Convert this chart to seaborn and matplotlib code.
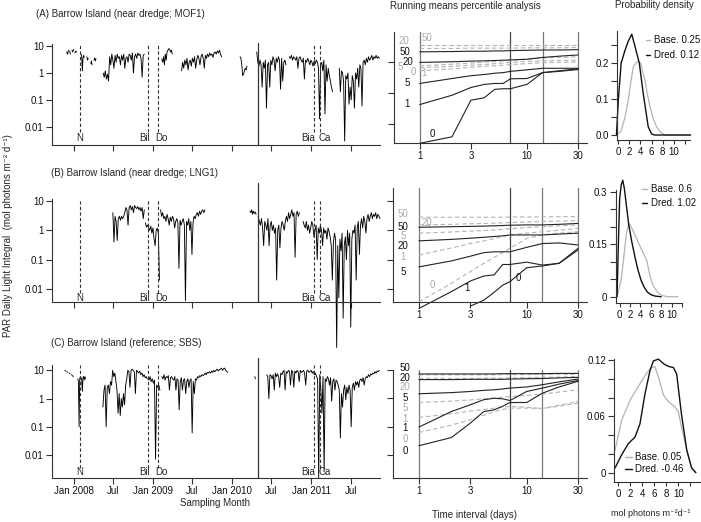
import numpy as np
import pandas as pd
import matplotlib
matplotlib.use("Agg")
import matplotlib.pyplot as plt
from matplotlib.lines import Line2D
from matplotlib.ticker import NullLocator
import matplotlib.transforms as mtransforms
import seaborn as sns

sns.set_theme(style="white")
plt.rcParams['font.family'] = ['Liberation Sans', 'DejaVu Sans']
plt.rcParams['axes.unicode_minus'] = False

# ---------------------------------------------------------------- DATA
# time axis: day 0 = 1 Jan 2008
month_ticks = [0, 182, 366, 547, 731, 912, 1096, 1277]
month_labels = ["Jan 2008", "Jul", "Jan 2009", "Jul", "Jan 2010", "Jul", "Jan 2011", "Jul"]
event_days = [29, 343, 386, 1110, 1138]
event_names = ["N", "Bil", "Do", "Bia", "Ca"]
dredge_start_day = 850

# daily light integral segments: (first day, step in days, values)
mof1_segments = [
    (-33, 4, [6.0, 5.0, 7.0]),
    (-20, 4, [6.5, 5.0]),
    (-9, 4, [7.0, 6.0, 7.5]),
    (5, 4, [5.5, 6.5, 6.0]),
    (33, 3, [5.0, 4.0, 1.2, 3.5, 4.5, 3.8]),
    (60, 3, [4.0, 3.0, 3.5]),
    (78, 3, [2.2, 2.8, 2.0]),
    (93, 3, [3.0, 3.6, 2.8, 3.4]),
    (135, 5, [1.0, 0.7, 1.2, 0.6, 0.9, 0.5, 4.0, 2.0, 5.0, 3.0, 1.5, 4.5, 2.5, 5.0, 3.5, 4.0, 2.0, 4.5, 3.0, 5.0,
              1.5, 3.5, 4.0, 2.5, 5.0, 4.5, 3.0, 5.5, 1.0, 4.0, 5.0, 3.5, 5.5, 4.5, 5.0, 3.5, 0.7, 4.5, 5.0]),
    (406, 4, [3.3, 2.5, 4.0, 2.0, 5.0, 3.0, 6.0, 7.0, 8.0, 7.5, 6.0, 7.0, 5.0]),
    (497, 5, [1.2, 2.5, 1.5, 3.0, 2.0, 3.5, 1.3, 2.5, 3.0, 1.8, 3.5, 2.5, 4.0, 1.5, 3.0, 4.5, 3.5, 2.0, 4.0, 5.0,
              3.5, 1.5, 4.5, 3.5, 5.0, 4.0, 5.5, 4.5, 5.0, 3.8, 5.5, 6.0, 5.0, 6.5, 5.5, 7.0, 5.0, 4.0]),
    (767, 4, [4.0, 3.5, 2.0, 0.8, 0.9, 1.2, 1.5, 1.3, 1.8]),
    (844, 5, [6.0, 2.5, 1.8, 3.0, 2.0, 0.3, 2.5, 1.5, 3.0, 0.05, 2.0, 2.5, 0.3, 3.0, 2.0, 4.0, 3.0, 1.2, 3.5, 2.5,
              4.0, 3.0, 0.25, 3.5, 0.5, 2.5, 3.0, 2.0]),
    (994, 5, [4.0, 3.5, 4.5, 3.0, 4.0, 3.5, 3.0, 4.0, 1.5, 3.5, 4.0, 3.0, 2.5, 3.5, 0.6, 3.0, 2.5, 3.5, 2.8, 2.0,
              3.0, 2.5, 1.8, 2.8, 2.2, 3.0, 2.5, 1.5, 0.02, 2.0, 2.5, 1.2, 3.0, 0.03, 2.0, 0.5, 1.5, 0.8, 0.5, 0.3,
              0.2]),
    (1225, 5, [1.5, 0.2, 1.2, 1.0, 0.5, 0.003, 0.8, 0.6, 1.0, 0.07, 0.3, 0.1, 0.8, 0.5, 0.05, 1.0, 0.6, 1.5, 0.3,
               2.0, 1.5, 0.06, 2.5, 3.0, 2.0, 3.5, 2.5, 4.0, 3.0, 3.5, 4.5, 3.0, 4.0, 3.5, 4.5, 3.5, 4.0, 3.5]),
]
lng1_segments = [
    (180, 5, [4.0, 0.4, 3.0, 2.0, 0.45, 2.5, 3.0, 2.2, 3.0, 2.5, 3.0, 4.0, 6.0, 5.0, 1.5, 6.0, 7.0, 5.0, 6.5, 4.0,
              7.0, 6.0, 5.5, 6.5, 5.0, 6.0, 4.5, 6.0, 2.5, 5.0]),
    (330, 5, [1.8, 1.3, 1.5, 1.2, 1.0, 1.4, 0.8, 1.2, 0.5, 0.3, 1.0, 1.2, 0.8, 0.02]),
    (400, 5, [5.0, 3.0, 4.0, 2.5, 3.0, 2.0, 3.5, 2.5, 1.5, 2.8, 2.0, 3.0, 2.5, 1.2, 2.0, 2.5, 1.8, 0.05, 2.2, 1.5,
              2.0, 2.5, 1.5, 0.004, 2.0, 1.5, 2.5, 1.0, 2.0, 0.15, 1.8, 3.0, 2.5, 3.5, 4.0, 3.0, 4.5, 3.5, 4.5, 5.0,
              4.0, 5.0]),
    (813, 4, [4.5, 4.0, 5.0, 3.5, 4.5, 3.8, 4.2, 3.5]),
    (851, 5, [3.0, 2.0, 1.5, 2.5, 1.2, 0.3, 2.0, 1.5, 1.0, 2.5, 0.3, 1.5, 2.0, 1.0, 1.5, 0.8, 1.2, 0.02, 1.0, 1.5,
              0.25, 1.2, 2.0, 1.5, 1.0, 2.0, 3.0, 2.0, 4.0, 2.5, 3.5, 5.0, 3.0, 4.0, 0.12, 3.5, 4.5, 3.0, 4.0]),
    (1058, 5, [2.0, 1.5, 1.2, 2.0, 1.0, 1.5, 0.8, 1.2, 2.0, 1.5, 0.6, 1.0, 1.5, 0.1, 1.2, 0.8, 1.5, 1.0, 0.3, 1.2,
               0.8, 1.0, 0.5, 1.2, 0.9,
               0.6, 0.3, 0.02, 0.4, 0.8, 0.5, 0.0001, 0.3, 0.005, 0.5, 0.2, 0.8, 0.001, 0.3, 0.6, 0.1, 1.0, 0.3,
               0.8, 0.0005, 0.5, 1.0,
               0.8, 1.5, 0.02, 1.2, 2.0, 0.15, 1.5, 2.5, 1.2, 3.0, 2.0, 0.8, 2.5, 3.5, 2.0, 3.0, 4.0, 2.5, 3.5,
               3.0, 4.0, 2.5, 3.5, 3.0, 2.5]),
]
sbs_segments = [
    (-42, 4, [10.0, 9.5]),
    (-33, 4, [9.0, 8.5]),
    (-22, 4, [8.0, 7.5]),
    (-11, 4, [7.0, 6.5, 6.0]),
    (18, 3, [5.0, 4.0, 0.1, 5.0, 6.0, 5.5, 4.5, 1.8, 5.5, 6.0, 4.5, 6.0, 5.0]),
    (134, 5, [0.5, 2.0, 3.0, 0.1, 2.5, 3.0, 1.5, 4.0, 3.0, 10.0, 6.0, 8.0, 4.0, 2.0, 0.3, 1.5, 0.25, 1.0, 0.5, 1.5,
              0.6, 3.0, 5.0, 10.0, 9.0, 2.5, 10.0, 11.0, 10.0, 9.0, 1.5, 10.0, 9.0, 8.0, 9.5, 7.0, 8.0, 6.0, 7.0,
              5.5, 6.0, 5.0]),
    (342, 5, [5.0, 4.5, 6.0, 4.0, 5.0, 3.5, 4.5, 0.007, 3.0, 2.5, 3.0, 2.0]),
    (406, 5, [6.0, 5.0, 7.0, 4.5, 6.0, 5.5, 6.5, 2.0, 5.5, 6.0, 5.0, 4.5, 6.0, 2.0, 5.0, 4.5, 0.4, 4.0, 5.5, 2.0,
              4.5, 5.0, 1.5, 4.0, 5.0, 2.5, 4.5, 5.0, 0.06, 4.0, 1.5, 5.0, 4.5, 6.0, 5.5, 6.5, 6.0, 7.0, 6.5, 7.0,
              8.0, 7.0, 8.5, 8.0, 9.0, 8.0, 9.5, 8.5, 10.0, 9.0, 10.0, 11.0, 9.5, 10.5, 11.0, 12.0, 10.0, 11.5,
              12.0, 10.0, 9.0, 8.5]),
    (835, 3, [6.0, 5.0]),
    (890, 5, [7.0, 6.0, 1.0, 7.0, 6.5, 5.0, 7.0, 2.0, 8.0, 6.0, 7.5, 6.0, 2.5, 8.0, 7.0, 9.0,
              10.0, 2.0, 9.0, 8.0, 10.0, 9.0, 3.0, 10.0, 9.0, 2.5, 9.5, 8.0, 10.0, 9.0, 4.0, 10.0, 8.5, 9.0, 10.0,
              8.0, 3.0, 9.5, 10.0, 8.5, 9.0, 10.0, 8.0, 9.0,
              7.0, 8.0, 6.0, 5.0, 0.0015, 7.0, 2.0, 0.3, 6.0, 0.0025, 5.0, 4.0, 6.0, 5.0, 3.0, 5.5, 0.8, 4.0, 5.0,
              2.0, 4.5, 4.0,
              3.0, 2.0, 0.04, 1.5, 0.5, 2.0, 3.0, 0.9, 2.5, 1.5, 3.0, 2.0, 0.1, 2.5, 3.5, 2.0, 4.0, 3.0,
              4.0, 2.5, 4.5, 5.0, 4.0, 5.5, 3.0, 5.0, 6.0, 5.5, 7.0, 6.0, 7.5, 7.0, 8.0, 7.5, 9.0, 8.0, 9.5, 9.0,
              10.0]),
]

# running-mean percentiles (log10 of mol photons), rows = percentiles 0,1,5,20,50
interval_days = [1, 2, 3, 4, 5, 6, 7, 10, 14, 20, 30]
pct_levels = ["0", "1", "5", "20", "50"]
nan = np.nan
mof1_dred_log = [
    [-1.62, -1.41, -0.23, -0.15, 0.12, 0.14, 0.14, 0.28, 0.66, 0.70, 0.76],
    [-0.37, -0.07, 0.18, 0.28, 0.31, 0.31, 0.46, 0.47, 0.66, 0.72, 0.78],
    [0.31, 0.47, 0.56, 0.60, 0.64, 0.66, 0.70, 0.75, 0.80, 0.80, 0.80],
    [0.99, 1.01, 1.03, 1.04, 1.05, 1.06, 1.07, 1.09, 1.15, 1.19, 1.23],
    [1.33, 1.34, 1.35, 1.35, 1.36, 1.36, 1.37, 1.38, 1.39, 1.39, 1.40],
]
mof1_base_log = [
    [0.72, 0.78, 0.83, 0.86, 0.88, 0.90, 0.92, 0.95, 0.98, 0.99, 1.00],
    [0.82, 0.86, 0.90, 0.92, 0.95, 0.97, 0.99, 1.02, 1.04, 1.05, 1.06],
    [0.88, 0.93, 0.97, 1.00, 1.02, 1.04, 1.06, 1.10, 1.13, 1.15, 1.17],
    [1.44, 1.44, 1.45, 1.45, 1.45, 1.45, 1.45, 1.46, 1.46, 1.46, 1.47],
    [1.55, 1.55, 1.55, 1.55, 1.55, 1.55, 1.55, 1.55, 1.55, 1.55, 1.55],
]
lng1_dred_log = [
    [nan, nan, -2.57, -2.37, -2.10, -1.86, -1.74, -1.27, -1.21, -1.12, -0.67],
    [-2.65, -2.08, -1.72, -1.55, -1.51, -1.16, -1.16, -1.08, -1.18, -1.12, -0.61],
    [-1.24, -1.04, -0.88, -0.76, -0.73, -0.73, -0.73, -0.58, -0.45, -0.43, -0.50],
    [-0.36, -0.31, -0.27, -0.24, -0.21, -0.19, -0.16, -0.16, -0.16, -0.13, -0.10],
    [0.10, 0.12, 0.13, 0.14, 0.15, 0.16, 0.17, 0.18, 0.18, 0.20, 0.23],
]
lng1_base_log = [
    [-2.42, -1.80, -1.40, -1.12, -0.92, -0.75, -0.61, -0.28, -0.16, -0.10, -0.05],
    [-0.84, -0.60, -0.45, -0.36, -0.28, -0.21, -0.16, -0.10, -0.05, 0.00, 0.06],
    [-0.10, -0.06, -0.03, -0.01, 0.01, 0.03, 0.05, 0.09, 0.12, 0.15, 0.18],
    [0.18, 0.20, 0.22, 0.23, 0.24, 0.25, 0.26, 0.28, 0.30, 0.31, 0.32],
    [0.44, 0.44, 0.44, 0.44, 0.44, 0.44, 0.45, 0.45, 0.45, 0.46, 0.46],
]
sbs_dred_log = [
    [-1.68, -1.39, -0.88, -0.47, -0.41, -0.28, -0.15, -0.15, 0.18, 0.40, 0.60],
    [-1.02, -0.47, -0.23, -0.05, 0.00, -0.02, -0.08, 0.24, 0.36, 0.50, 0.63],
    [0.16, 0.20, 0.24, 0.28, 0.30, 0.33, 0.36, 0.40, 0.48, 0.58, 0.68],
    [0.66, 0.66, 0.67, 0.67, 0.67, 0.67, 0.68, 0.69, 0.70, 0.72, 0.74],
    [0.86, 0.86, 0.86, 0.86, 0.86, 0.87, 0.87, 0.87, 0.87, 0.88, 0.88],
]
sbs_base_log = [
    [-1.21, -0.95, -0.76, -0.60, -0.47, -0.40, -0.35, -0.35, -0.36, -0.28, -0.17],
    [-0.68, -0.55, -0.45, -0.40, -0.35, -0.32, -0.29, -0.32, -0.36, -0.25, -0.11],
    [-0.15, -0.10, -0.06, -0.02, 0.01, 0.04, 0.06, 0.10, 0.15, 0.22, 0.30],
    [0.70, 0.70, 0.70, 0.71, 0.71, 0.71, 0.72, 0.73, 0.74, 0.75, 0.77],
    [0.83, 0.83, 0.83, 0.83, 0.83, 0.84, 0.84, 0.84, 0.85, 0.85, 0.85],
]

# probability densities (x in mol photons m-2 d-1)
mof1_base_x = [-0.3, 0.5, 1.25, 1.85, 2.3, 2.75, 3.2, 3.6, 4.05, 4.5, 4.85, 5.3, 5.7, 6.3, 6.9, 7.6, 8.4, 13.0]
mof1_base_y = [0, 0.01, 0.05, 0.10, 0.15, 0.19, 0.20, 0.205, 0.20, 0.17, 0.15, 0.11, 0.08, 0.045, 0.023, 0.008, 0, 0]
mof1_dred_x = [-0.3, 0.05, 0.55, 1.25, 1.8, 2.45, 3.05, 3.8, 4.5, 5.4, 6.0, 6.5, 13.0]
mof1_dred_y = [0, 0.10, 0.20, 0.236, 0.26, 0.28, 0.245, 0.20, 0.116, 0.023, 0.003, 0, 0]
lng1_base_x = [-0.5, 0.3, 0.88, 1.3, 1.76, 2.2, 2.65, 3.1, 3.53, 4.0, 4.4, 4.8, 5.2, 5.55, 5.88, 6.3, 6.76, 7.3,
               7.94, 8.6, 9.4, 11.2]
lng1_base_y = [0, 0.048, 0.124, 0.18, 0.21, 0.20, 0.186, 0.172, 0.157, 0.142, 0.129, 0.117, 0.105, 0.08, 0.057,
               0.038, 0.024, 0.013, 0.005, 0.002, 0, 0]
lng1_dred_x = [-0.5, -0.3, 0, 0.3, 0.6, 0.9, 1.3, 1.76, 2.3, 2.94, 3.5, 4.1, 4.7, 5.3, 6.0, 6.8, 8.0]
lng1_dred_y = [0, 0.12, 0.28, 0.32, 0.333, 0.31, 0.26, 0.205, 0.16, 0.114, 0.078, 0.048, 0.028, 0.014, 0.006,
               0.002, 0]
sbs_base_x = [-0.55, 0.55, 1.94, 3.33, 4.72, 5.55, 6.1, 6.67, 7.5, 8.3, 9.44, 10.0, 10.5, 11.4, 12.2, 12.9]
sbs_base_y = [0.024, 0.056, 0.077, 0.092, 0.106, 0.112, 0.113, 0.102, 0.083, 0.076, 0.070, 0.065, 0.049, 0.024,
              0.006, 0]
sbs_dred_x = [-0.55, 0.55, 1.67, 2.78, 3.6, 4.44, 5.28, 5.83, 6.67, 7.2, 7.78, 8.5, 9.17, 9.72, 10.5, 11.4, 12.2,
              12.9]
sbs_dred_y = [0.005, 0.019, 0.031, 0.038, 0.052, 0.084, 0.109, 0.119, 0.121, 0.118, 0.115, 0.113, 0.112, 0.105,
              0.063, 0.024, 0.005, 0]
mof1_legend = ["Base. 0.25", "Dred. 0.12"]
lng1_legend = ["Base. 0.6", "Dred. 1.02"]
sbs_legend = ["Base. 0.05", "Dred. -0.46"]

# ---------------------------------------------------------------- FIGURE
W, H = 701, 522
fig = plt.figure(figsize=(W / 100, H / 100), dpi=100)
AX = '#333333'
GREY = '#b3b3b3'
FS = 7


def px_axes(x0, y0, x1, y1):
    return fig.add_axes([x0 / W, 1 - y1 / H, (x1 - x0) / W, (y1 - y0) / H])


def style(ax):
    for s in ['top', 'right']:
        ax.spines[s].set_visible(False)
    for s in ['left', 'bottom']:
        ax.spines[s].set_color(AX)
        ax.spines[s].set_linewidth(0.8)
    ax.tick_params(which='major', direction='out', length=4, width=0.8, color=AX,
                   labelsize=FS, pad=2, bottom=True, left=True, labelcolor='#111111')
    ax.set_facecolor('none')
    ax.grid(False)


def ftext(x, y, s, **kw):
    kw.setdefault('fontsize', FS)
    kw.setdefault('va', 'center')
    fig.text(x / W, 1 - y / H, s, **kw)


def draw_series(ax, segments, ylog, lab_frac, line_frac, dredge_top, show_labels, clip):
    ax.set_yscale('log')
    for start, step, vals in segments:
        df = pd.DataFrame({'day': start + step * np.arange(len(vals)), 'dli': vals})
        sns.lineplot(data=df, x='day', y='dli', ax=ax, color='black', lw=0.65,
                     estimator=None, sort=False, clip_on=clip)
    ax.axvline(dredge_start_day, ymin=0, ymax=dredge_top, color=AX, lw=0.9, clip_on=False)
    trans = mtransforms.blended_transform_factory(ax.transData, ax.transAxes)
    offs = [0, -15, 17, -29, 20]
    for d, name, o in zip(event_days, event_names, offs):
        ax.axvline(d, ymin=line_frac, ymax=1, color=AX, lw=0.8, ls=(0, (3, 2)))
        ax.text(d + o, lab_frac, name, transform=trans, ha='center', va='center', fontsize=FS)
    ax.set_xlim(-101, 1413)
    ax.set_ylim(10 ** ylog[0], 10 ** ylog[1])
    ax.set_yticks([0.01, 0.1, 1, 10])
    ax.set_yticklabels(['0.01', '0.1', '1', '10'])
    ax.yaxis.set_minor_locator(NullLocator())
    ax.set_xticks(month_ticks)
    ax.set_xticklabels(month_labels if show_labels else [])
    ax.set_xlabel('')
    ax.set_ylabel('')
    style(ax)


def draw_mid(ax, dred, base, ylog, yticks, dred_lab_px, base_lab_px):
    ax.set_xscale('log')
    ax.set_yscale('log')
    for d, c in zip([1, 7, 14, 30], ['#777777', '#444444', '#777777', '#777777']):
        ax.axvline(d, color=c, lw=0.9)
    for row in base:
        df = pd.DataFrame({'interval': interval_days, 'value': 10 ** np.array(row)}).dropna()
        sns.lineplot(data=df, x='interval', y='value', ax=ax, color=GREY, lw=0.8,
                     linestyle=(0, (4, 2.5)), estimator=None, sort=False, clip_on=False)
    for row in dred:
        df = pd.DataFrame({'interval': interval_days, 'value': 10 ** np.array(row)}).dropna()
        sns.lineplot(data=df, x='interval', y='value', ax=ax, color='#222222', lw=0.8,
                     estimator=None, sort=False, clip_on=False)
    ax.set_xlim(10 ** -0.24, 10 ** 1.56)
    ax.set_ylim(10 ** ylog[0], 10 ** ylog[1])
    ax.set_xticks([1, 3, 10, 30])
    ax.set_xticklabels(['1', '3', '10', '30'])
    ax.set_yticks(yticks)
    ax.set_yticklabels([])
    ax.xaxis.set_minor_locator(NullLocator())
    ax.yaxis.set_minor_locator(NullLocator())
    ax.set_xlabel('')
    ax.set_ylabel('')
    style(ax)
    for lvl, pos in zip(pct_levels, dred_lab_px):
        if pos is not None:
            ftext(pos[0], pos[1], lvl, ha='center', color='#111111')
    for lvl, pos in zip(pct_levels, base_lab_px):
        if pos is not None:
            ftext(pos[0], pos[1], lvl, ha='center', color='#aaaaaa')


def draw_dens(ax, bx, by, dx, dy, xlim, ylim, yticks, ylabels, legend, leg_px):
    sns.lineplot(x=bx, y=by, ax=ax, color=GREY, lw=0.9, estimator=None, sort=False, clip_on=False)
    sns.lineplot(x=dx, y=dy, ax=ax, color='#111111', lw=1.0, estimator=None, sort=False, clip_on=False)
    ax.set_xlim(*xlim)
    ax.set_ylim(*ylim)
    ax.set_xticks([0, 2, 4, 6, 8, 10, 12])
    ax.set_xticklabels(['0', '2', '4', '6', '8', '10', ''])
    ax.set_yticks(yticks)
    ax.set_yticklabels(ylabels)
    ax.set_xlabel('')
    ax.set_ylabel('')
    style(ax)
    ax.tick_params(axis='x', length=3, pad=2)
    (lx0, lx1, tx, y1, y2) = leg_px
    for (yy, col, txt) in [(y1, GREY, legend[0]), (y2, '#111111', legend[1])]:
        fig.add_artist(Line2D([lx0 / W, lx1 / W], [1 - yy / H, 1 - yy / H], color=col, lw=1.0))
        ftext(tx, yy, txt, ha='left', color='#111111')


# ---- left: time series
axA = px_axes(52, 44, 380, 145)
draw_series(axA, mof1_segments, (-2.667, 1.074), 0.069, 0.13, 1.01, False, True)
axB = px_axes(52, 199, 380, 302)
draw_series(axB, lng1_segments, (-2.447, 1.068), 0.042, 0.09, 1.155, False, False)
axC = px_axes(52, 365, 380, 477.7)
draw_series(axC, sbs_segments, (-2.81, 1.19), 0.048, 0.09, 1.06, True, True)

# ---- middle: running means (label positions in pixels, order 0,1,5,20,50)
mA = px_axes(394, 32, 587, 143)
draw_mid(mA, mof1_dred_log, mof1_base_log, (-1.61, 1.97), [0.1, 1, 10],
         [(432, 134), (407, 104), (407, 83), (408, 62), (405, 52)],
         [(413, 72), (424, 73), (400, 67), (404, 41), (427, 38)])
mB = px_axes(393, 188, 587, 302)
draw_mid(mB, lng1_dred_log, lng1_base_log, (-2.43, 1.43), [0.01, 0.1, 1, 10],
         [(518, 278), (467, 288), (403, 272), (403, 246), (403, 227)],
         [(432, 285), (403, 257), (403, 236), (427, 223), (403, 214)])
mC = px_axes(393, 370, 587, 477.7)
draw_mid(mC, sbs_dred_log, sbs_base_log, (-2.81, 1.0), [0.01, 0.1, 1, 10],
         [(405, 451), (405, 428), (405, 398), (405, 378), (405, 368)],
         [(405, 439), (405, 419), (405, 408), (405, 387), None])

# ---- right: densities
dA = px_axes(617, 31, 690, 140)
draw_dens(dA, mof1_base_x, mof1_base_y, mof1_dred_x, mof1_dred_y, (-0.2, 12.9), (-0.0139, 0.289),
          [0, 0.05, 0.1, 0.15, 0.2, 0.25], ['0.0', '', '0.1', '', '0.2', ''], mof1_legend,
          (646, 650, 654, 40, 55))
dB = px_axes(615.7, 190, 682, 302.7)
draw_dens(dB, lng1_base_x, lng1_base_y, lng1_dred_x, lng1_dred_y, (-0.76, 10.9), (-0.017, 0.305),
          [0, 0.05, 0.1, 0.15, 0.2, 0.25, 0.3], ['0', '', '', '0.15', '', '', '0.3'], lng1_legend,
          (642, 647, 651, 189, 203))
dC = px_axes(614.3, 359.3, 700, 481.7)
draw_dens(dC, sbs_base_x, sbs_base_y, sbs_dred_x, sbs_dred_y, (-0.67, 13.6), (-0.0096, 0.1208),
          [0, 0.02, 0.04, 0.06, 0.08, 0.1, 0.12], ['0', '', '', '0.06', '', '', '0.12'], sbs_legend,
          (625, 632, 635, 457, 469))

# ---- titles and axis labels
ftext(36, 14, "(A) Barrow Island (near dredge; MOF1)", ha='left')
ftext(51, 172.5, "(B) Barrow Island (near dredge; LNG1)", ha='left')
ftext(51, 342.5, "(C) Barrow Island (reference; SBS)", ha='left')
ftext(465, 6, "Running means percentile analysis", ha='center')
ftext(654, 5, "Probability density", ha='center')
ftext(8, 236, "PAR Daily Light Integral  (mol photons m\u207b\u00b2 d\u207b\u00b9)", ha='center', rotation=90)
ftext(215, 503, "Sampling Month", ha='center')
ftext(474, 515, "Time interval (days)", ha='center')
ftext(651, 514, "mol photons m\u207b\u00b2d\u207b\u00b9", ha='center', fontsize=6.5)

fig.savefig("out.png", dpi=100)
